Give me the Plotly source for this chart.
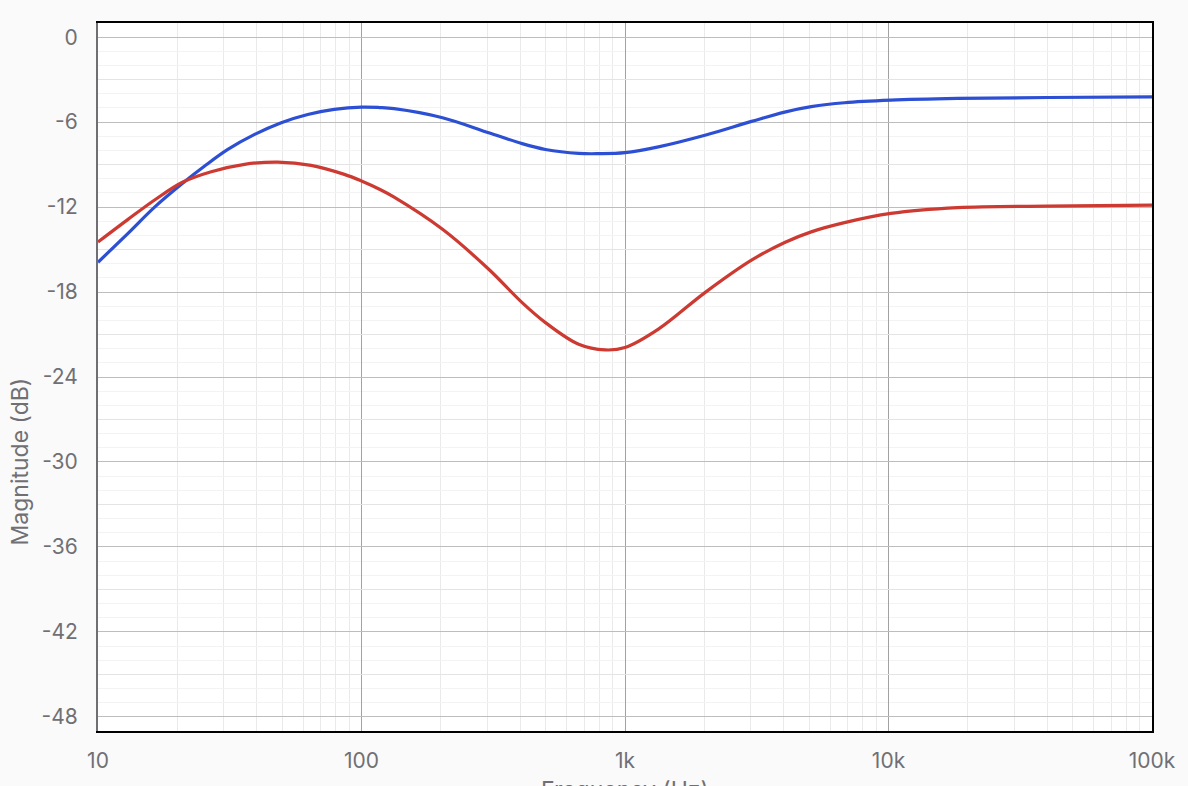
import plotly.graph_objects as go

# lecturas de la curva azul (Hz, dB)
blue_freq = [10, 13, 16.4, 21, 25.4, 31.1, 39.3, 49.6, 62.5, 78.8, 100, 117, 133, 203, 304, 407,
             499, 667, 794, 1000, 1339, 2011, 3020, 4036, 5090, 6808, 10200, 18300, 40100, 100000]
blue_db = [-15.9, -13.85, -12.0, -10.3, -9.1, -7.93, -6.87, -6.04, -5.46, -5.10, -4.94, -4.97, -5.05,
           -5.69, -6.75, -7.52, -7.93, -8.21, -8.23, -8.16, -7.75, -6.93, -5.95, -5.29, -4.91,
           -4.63, -4.45, -4.33, -4.26, -4.22]

# lecturas de la curva roja (Hz, dB)
red_freq = [10, 13, 16.4, 21, 26.9, 36, 48.1, 64.4, 86.1, 100, 117, 133, 203, 304, 407, 499, 667,
            841, 1000, 1339, 2011, 3020, 4036, 5090, 6808, 10200, 18300, 40100, 100000]
red_db = [-14.47, -12.87, -11.5, -10.23, -9.5, -8.98, -8.82, -9.05, -9.69, -10.16, -10.74, -11.3,
          -13.57, -16.39, -18.75, -20.16, -21.69, -22.09, -21.92, -20.62, -18.04, -15.75,
          -14.5, -13.75, -13.1, -12.45, -12.04, -11.93, -11.86]

x_ticks = [10, 100, 1000, 10000, 100000]
x_labels = ['10', '100', '1k', '10k', '100k']
y_ticks = [0, -6, -12, -18, -24, -30, -36, -42, -48]
y_labels = [str(v) for v in y_ticks]

FONT = 'Inter'
GRAY = '#707074'

minor_x = [d * m for d in [10, 100, 1000, 10000] for m in range(2, 10)]
mid_y = [v - 3 for v in y_ticks[:-1]]

fig = go.Figure()
fig.add_trace(go.Scatter(x=blue_freq, y=blue_db, mode='lines',
                         line=dict(color='#2c4fd3', width=3.2, shape='spline', smoothing=1.0),
                         showlegend=False))
fig.add_trace(go.Scatter(x=red_freq, y=red_db, mode='lines',
                         line=dict(color='#cc3a32', width=3.2, shape='spline', smoothing=1.0),
                         showlegend=False))
# eje auxiliar: rejilla intermedia cada 3 dB y borde derecho negro
fig.add_trace(go.Scatter(x=[10], y=[0], yaxis='y2', mode='markers', marker=dict(opacity=0),
                         showlegend=False, hoverinfo='skip'))

fig.update_layout(
    width=1188, height=786,
    margin=dict(l=98, r=33, t=23, b=55),
    paper_bgcolor='#fafafa',
    plot_bgcolor='white',
    font=dict(family=FONT, color=GRAY),
    xaxis=dict(
        type='log', range=[1, 5],
        tickmode='array', tickvals=x_ticks, ticktext=x_labels,
        tickfont=dict(size=21, color=GRAY),
        ticks='', ticklabelstandoff=10,
        showgrid=True, gridcolor='#a2a2a2', gridwidth=1,
        minor=dict(tickmode='array', tickvals=minor_x, showgrid=True, gridcolor='#eaeaea',
                   gridwidth=1, ticks=''),
        showline=True, linecolor='black', linewidth=2, mirror=True,
        zeroline=False,
    ),
    yaxis=dict(
        range=[-49, 1],
        tickmode='array', tickvals=y_ticks, ticktext=y_labels,
        tickfont=dict(size=21, color=GRAY),
        ticks='', ticklabelstandoff=14,
        showgrid=True, gridcolor='#bdbdbd', gridwidth=1,
        minor=dict(dtick=1, tick0=0, showgrid=True, gridcolor='#f3f3f3', gridwidth=1, ticks=''),
        showline=True, linecolor='#6e6e73', linewidth=2,
        zeroline=False,
    ),
    yaxis2=dict(
        overlaying='y', side='right', range=[-49, 1],
        tickmode='array', tickvals=mid_y, showticklabels=False, ticks='',
        showgrid=True, gridcolor='#e4e4e4', gridwidth=1,
        showline=True, linecolor='black', linewidth=2,
        zeroline=False,
    ),
    annotations=[
        dict(text='Magnitude (dB)', xref='paper', yref='paper', x=-0.0738, y=0.381, textangle=-90,
             showarrow=False, xanchor='center', yanchor='middle', font=dict(size=23, color=GRAY)),
        dict(text='Frequency (Hz)', xref='paper', yref='paper', x=0.5, y=-0.0607,
             showarrow=False, xanchor='center', yanchor='top', font=dict(size=23, color=GRAY)),
    ],
)

# quitar el margen del body para que la figura ocupe la ventana exacta
fig.write_html('out.html', config={'displayModeBar': False},
               post_script="document.body.style.margin='0';"
                           "document.documentElement.style.overflow='hidden';")
